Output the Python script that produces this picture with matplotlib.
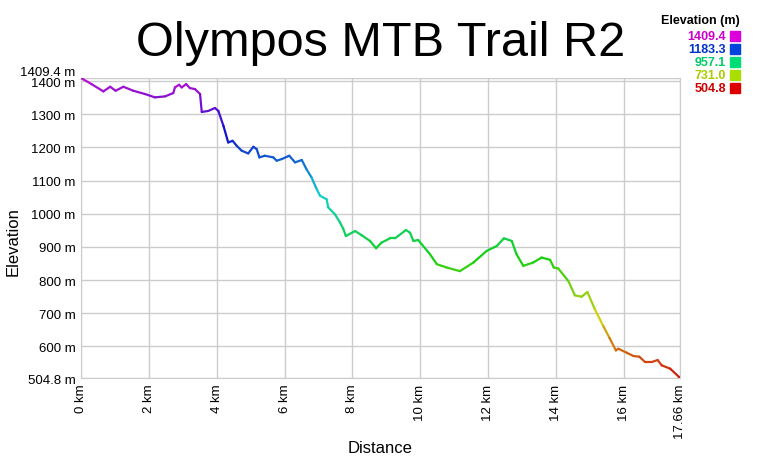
import numpy as np
import matplotlib
matplotlib.use("Agg")
import matplotlib.pyplot as plt
from matplotlib.collections import LineCollection
from matplotlib.colors import hsv_to_rgb

plt.rcParams['font.family'] = ['Liberation Sans', 'DejaVu Sans']

distance_km = [0.0, 0.31, 0.66, 0.86, 1.02, 1.25, 1.54, 1.89, 2.18, 2.48, 2.72, 2.77, 2.89, 2.97,
               3.10, 3.21, 3.36, 3.51, 3.56, 3.75, 3.95, 4.05, 4.20, 4.34, 4.47, 4.59, 4.74, 4.93,
               5.08, 5.18, 5.26, 5.42, 5.67, 5.77, 5.92, 6.14, 6.31, 6.51, 6.65, 6.80, 6.95, 7.05,
               7.24, 7.29, 7.49, 7.64, 7.73, 7.81, 8.08, 8.28, 8.52, 8.70, 8.86, 9.11, 9.26, 9.58,
               9.70, 9.80, 9.94, 10.29, 10.49, 10.78, 11.17, 11.57, 11.96, 12.26, 12.47, 12.70,
               12.84, 13.04, 13.33, 13.58, 13.83, 13.94, 14.07, 14.37, 14.56, 14.76, 14.93, 15.15,
               15.40, 15.58, 15.77, 15.84, 16.09, 16.29, 16.46, 16.63, 16.83, 17.00, 17.12, 17.37,
               17.64, 17.66]
elevation_m = [1409.4, 1391, 1369, 1383, 1371, 1383, 1371, 1361, 1351, 1354, 1364, 1381, 1389, 1381,
               1391, 1379, 1376, 1361, 1307, 1310, 1319, 1310, 1265, 1215, 1220, 1205, 1190, 1182,
               1202, 1195, 1170, 1175, 1170, 1160, 1165, 1175, 1155, 1162, 1134, 1109, 1074, 1054,
               1044, 1019, 998, 973, 955, 933, 948, 935, 918, 896, 913, 926, 926, 951,
               943, 918, 921, 878, 848, 838, 827, 853, 888, 903, 926, 918,
               878, 843, 853, 868, 861, 838, 835, 797, 754, 750, 764, 712,
               661, 626, 588, 593, 581, 571, 569, 553, 553, 559, 543, 533,
               507, 504.8]

x_ticks = [0, 2, 4, 6, 8, 10, 12, 14, 16, 17.66]
x_tick_labels = ["0 km", "2 km", "4 km", "6 km", "8 km", "10 km", "12 km", "14 km", "16 km", "17.66 km"]
y_ticks = [504.8, 600, 700, 800, 900, 1000, 1100, 1200, 1300, 1400, 1409.4]
y_tick_labels = ["504.8 m", "600 m", "700 m", "800 m", "900 m", "1000 m", "1100 m", "1200 m",
                 "1300 m", "1400 m", "1409.4 m"]
legend_values = ["1409.4", "1183.3", "957.1", "731.0", "504.8"]
legend_colors = ["#dd00dd", "#0044dd", "#00dd77", "#aadd00", "#dd0000"]
legend_text_colors = ["#cc00cc", "#0033cc", "#00cc66", "#aacc00", "#cc0000"]

ymin, ymax = 504.8, 1409.4

def elev_color(e):
    f = (e - ymin) / (ymax - ymin)
    h = f * 0.82
    return hsv_to_rgb((h, 0.92, 0.82))

fig = plt.figure(figsize=(7.6, 4.6), dpi=100)
ax = fig.add_axes([81/760, 1 - 379/460, (680-81)/760, (379-79)/460])

x = np.array(distance_km)
y = np.array(elevation_m)
pts = np.column_stack([x, y]).reshape(-1, 1, 2)
segs = np.concatenate([pts[:-1], pts[1:]], axis=1)
cols = [elev_color((a + b) / 2) for a, b in zip(y[:-1], y[1:])]
lc = LineCollection(segs, colors=cols, linewidths=1.6, capstyle='round', joinstyle='round', zorder=3)
ax.add_collection(lc)

ax.set_xlim(0, 17.66)
ax.set_ylim(ymin, ymax)
ax.set_xticks(x_ticks)
ax.set_xticklabels(x_tick_labels, rotation=90, fontsize=9.5)
ax.set_yticks(y_ticks)
ax.set_yticklabels(y_tick_labels, fontsize=9.5)
ax.tick_params(length=0, pad=4)
for lbl in ax.get_yticklabels():
    if lbl.get_text() == "1409.4 m":
        lbl.set_va('bottom')
ax.grid(True, color='#cccccc', linewidth=1)
for s in ax.spines.values():
    s.set_color('#cccccc')

fig.text(380/760, 1 - 449/460, "Distance", fontsize=12, ha='center', va='center')
fig.text(13/760, 1 - 242/460, "Elevation", fontsize=12, ha='center', va='center', rotation=90)

fig.text(381/760, 1 - 44/460, "Olympos MTB Trail R2", fontsize=35, ha='center', va='center')

fig.text(740/760, 1 - 21/460, "Elevation (m)", fontsize=9, fontweight='bold', ha='right', va='center')
for i, (v, c, tc) in enumerate(zip(legend_values, legend_colors, legend_text_colors)):
    yy = 1 - (37 + i * 13) / 460
    fig.text(726/760, yy, v, fontsize=9, fontweight='bold', color=tc, ha='right', va='center')
    fig.patches.append(plt.Rectangle((730/760, yy - 5/460), 10/760, 10/460,
                                     transform=fig.transFigure, color=c, figure=fig))

fig.savefig("out.png", dpi=100)
